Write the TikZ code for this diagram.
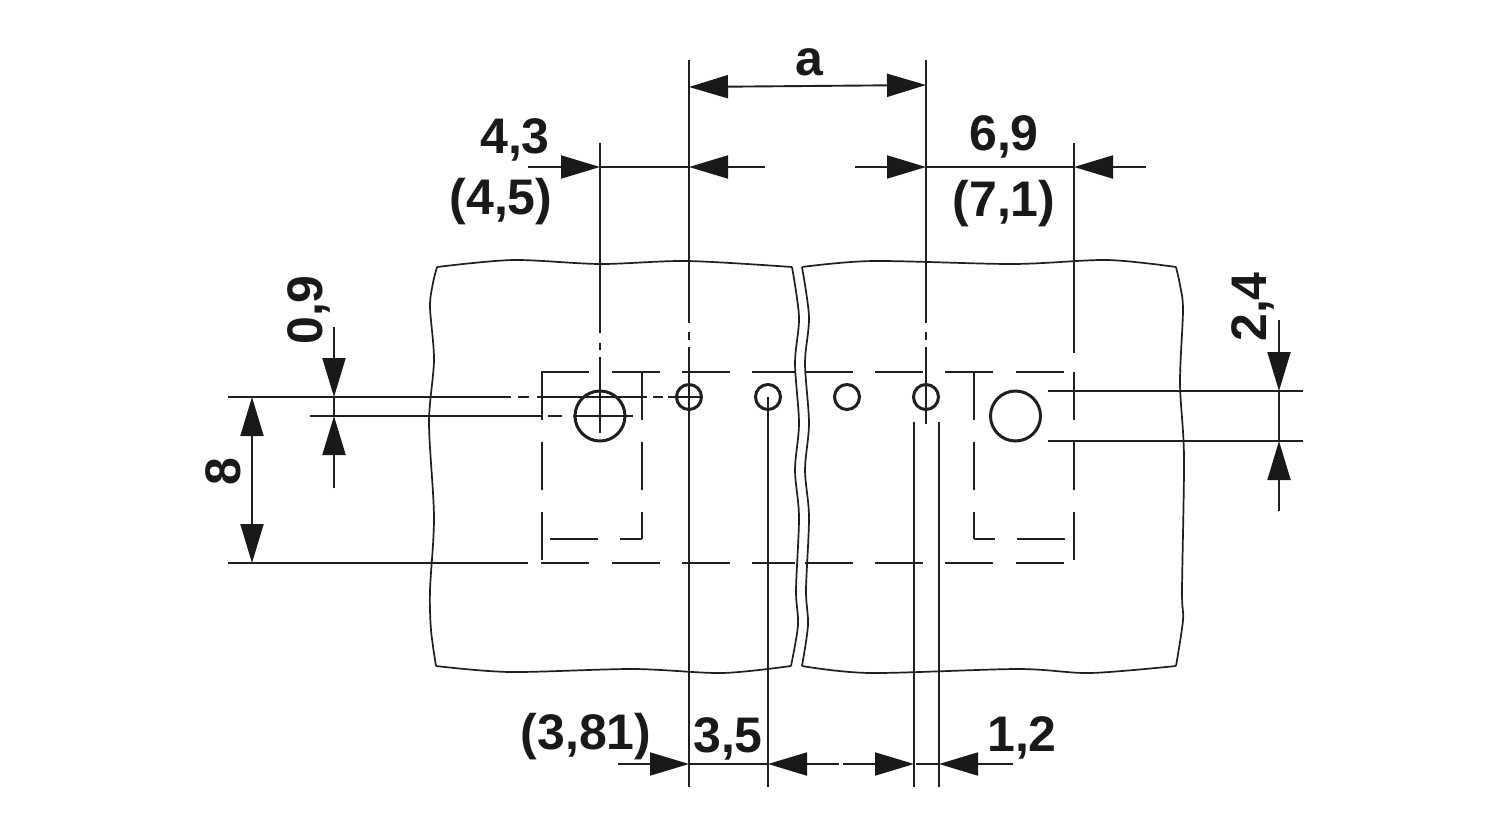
\documentclass[tikz,border=0pt]{standalone}
\usepackage{fontspec}
\setmainfont{Liberation Sans}
\usetikzlibrary{arrows.meta}
\tikzset{
  x=1pt,y=-1pt,
  ln/.style={line width=1.9pt,draw=black!88},
  hole/.style={line width=3pt,draw=black!88},
  edge/.style={line width=1.7pt,draw=black!88},
  dimhead/.style={ln,-{Triangle[length=39pt,width=23pt,color=black!90]}},
  lbl/.style={inner sep=0pt,text=black!90,font=\fontsize{50}{50}\selectfont\bfseries},
}
\begin{document}
\begin{tikzpicture}
\useasboundingbox[fill=white] (0,0) rectangle (1500,820);
% panels
\draw[edge] plot[smooth,tension=.5] coordinates {(437,267)(513,260)(600,264)(687,261)(792,267)};
\draw[edge] plot[smooth,tension=.5] coordinates {(437,267)(433,283)(430,307)(434,360)(429,423)(434,517)(430,590)(431,630)(436,666)};
\draw[edge] plot[smooth,tension=.5] coordinates {(792,267)(799,317)(795,363)(799,423)(795,470)(799,517)(796,590)(798,625)(791,666)};
\draw[edge] plot[smooth,tension=.5] coordinates {(436,666)(510,672)(633,669)(722,673)(791,666)};
\draw[edge] plot[smooth,tension=.5] coordinates {(802,267)(873,261)(1013,264)(1107,260)(1176,267)};
\draw[edge] plot[smooth,tension=.5] coordinates {(802,267)(809,317)(805,363)(809,423)(805,470)(809,517)(806,590)(808,625)(802,666)};
\draw[edge] plot[smooth,tension=.5] coordinates {(1176,267)(1180,285)(1183,310)(1180,383)(1184,457)(1182,590)(1183,620)(1176,666)};
\draw[edge] plot[smooth,tension=.5] coordinates {(802,666)(870,673)(1018,669)(1090,673)(1176,666)};
% dashed outer rectangle: horizontals
\foreach \a/\b in {541/589,612/660,682/730,752/795,805/853,875/923,945/993,1016/1064}{
  \draw[ln] (\a,372)--(\b,372);
  \draw[ln] (\a,563)--(\b,563);
}
% vertical dashes
\foreach \a/\b in {372/420,442/490,512/560}{
  \draw[ln] (542,\a)--(542,\b);
  \draw[ln] (1074,\a)--(1074,\b);
}
\foreach \a/\b in {372/420,442/490,512/539}{
  \draw[ln] (642,\a)--(642,\b);
  \draw[ln] (974,\a)--(974,\b);
}
\foreach \a/\b in {550/598,620/642,974/995,1017/1065}{
  \draw[ln] (\a,539)--(\b,539);
}
% holes
\draw[hole] (600,416) circle (25);
\draw[hole] (1015.5,416) circle (25);
\foreach \c in {689,768,847,926}{
  \draw[hole] (\c,397) circle (12.5);
}
% centre and extension lines
\foreach \a/\b in {143/333,343/350,357/433}{\draw[ln] (600,\a)--(600,\b);}
\foreach \a/\b in {60/323,332/340,347/787}{\draw[ln] (689,\a)--(689,\b);}
\foreach \a/\b in {60/323,332/340,347/424}{\draw[ln] (926,\a)--(926,\b);}
\draw[ln] (768,397)--(768,787);
\draw[ln] (914,422)--(914,787);
\draw[ln] (939,422)--(939,787);
\draw[ln] (1074,143)--(1074,353);
\foreach \a/\b in {228/511,518/529,537/647,653/663,668/702}{\draw[ln] (\a,397)--(\b,397);}
\foreach \a/\b in {310/543,548/562,573/633}{\draw[ln] (\a,416)--(\b,416);}
\draw[ln] (228,563)--(528,563);
\draw[ln] (1048,391)--(1303,391);
\draw[ln] (1048,441)--(1303,441);
% dimension a
\draw[ln,{Triangle[length=39pt,width=23pt,color=black!90]}-{Triangle[length=39pt,width=23pt,color=black!90]}] (689,87)--(926,85);
% 4,3 / 6,9
\draw[dimhead] (528,167)--(600,167);
\draw[ln] (600,167)--(689,167);
\draw[dimhead] (765,167)--(689,167);
\draw[dimhead] (855,167)--(926,167);
\draw[ln] (926,167)--(1074,167);
\draw[dimhead] (1146,167)--(1074,167);
% 0,9
\draw[dimhead] (334,327)--(334,397);
\draw[ln] (334,397)--(334,416);
\draw[dimhead] (334,488)--(334,416);
% 8
\draw[ln,{Triangle[length=39pt,width=23pt,color=black!90]}-{Triangle[length=39pt,width=23pt,color=black!90]}] (252,397)--(252,563);
% 2,4
\draw[dimhead] (1279,320)--(1279,391);
\draw[ln] (1279,391)--(1279,441);
\draw[dimhead] (1279,511)--(1279,441);
% bottom
\draw[dimhead] (618,764)--(689,764);
\draw[ln] (689,764)--(768,764);
\draw[dimhead] (839,764)--(768,764);
\draw[dimhead] (843,764)--(914,764);
\draw[ln] (916,764)--(939,764);
\draw[dimhead] (1013,764)--(939,764);
% labels
\node[lbl] (la) at (809,62) {a};
\node[lbl] (l43) at (515,140) {4,3};
\node[lbl] (l45) at (501,202) {(4,5)};
\node[lbl] (l69) at (1004,137) {6,9};
\node[lbl] (l71) at (1004,204) {(7,1)};
\node[lbl,rotate=90] (l09) at (309,310) {0,9};
\node[lbl,rotate=90] (l8) at (223,472) {8};
\node[lbl,rotate=90] (l24) at (1253,307) {2,4};
\node[lbl] (l381) at (586,737) {(3,81)};
\node[lbl] (l35) at (728,739) {3,5};
\node[lbl] (l12) at (1022,738) {1,2};
\end{tikzpicture}
\end{document}
